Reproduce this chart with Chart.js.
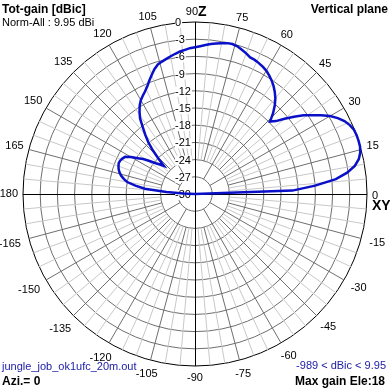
<!DOCTYPE html>
<html>
<head>
<title>Vertical plane</title>
<script src="https://cdn.jsdelivr.net/npm/chart.js"></script>
<style>
  body { margin: 0; background: #fff; }
</style>
</head>
<body>
<canvas id="myChart" width="390" height="389"></canvas>
<script>
// elevation angle (deg) and normalised total gain (dB)
const elevation = [0, 2, 4, 6, 8, 10, 12, 14, 16, 18, 20, 22, 24, 26, 28, 30, 32, 34, 36, 38,
  40, 42, 44, 46, 48, 50, 52, 54, 56, 58, 60, 62, 64, 66, 68, 70, 72, 74, 76, 78,
  80, 82, 84, 86, 88, 90, 92, 94, 96, 98, 100, 102, 104, 106, 108, 110, 112, 114, 116, 118,
  120, 122, 124, 126, 128, 130, 132, 134, 136, 138, 140, 142, 144, 146, 148, 150, 152, 154, 156, 158,
  160, 162, 164, 166, 168, 170, 172, 174, 176, 178, 180];
const gainDb = [-30, -13.0, -9.0, -5.3, -3.2, -1.7, -0.8, -0.3, -0.05, 0, 0, -0.1, -0.45, -1.0, -1.8, -2.8, -4.1, -5.4, -6.6, -8.1,
  -9.6, -11.0, -11.8, -10.4, -9.2, -8.2, -7.4, -6.7, -6.1, -5.6, -5.15, -4.85, -4.6, -4.4, -4.3, -3.9, -3.55, -3.2, -3.05, -3.1,
  -3.3, -3.5, -3.7, -3.95, -4.2, -4.4, -4.55, -4.8, -5.0, -5.3, -5.6, -5.9, -6.2, -6.5, -7.1, -7.9, -8.7, -9.5, -10.1, -10.6,
  -11.1, -11.8, -12.7, -13.7, -15.2, -16.5, -17.8, -19.4, -21.2, -22.7, -22.0, -21.3, -20.2, -19.1, -18.2, -17.1, -16.2, -15.9, -15.7, -15.65,
  -15.8, -16.0, -16.3, -16.7, -17.3, -18.0, -19.5, -21.2, -25.0, -28.0, -30];

const ringTicks = [0, -3, -6, -9, -12, -15, -18, -21, -24, -27, -30];
const angleTicks = [0, 15, 30, 45, 60, 75, 90, 105, 120, 135, 150, 165, 180,
  -165, -150, -135, -120, -105, -90, -75, -60, -45, -30, -15];

const title = 'Tot-gain [dBic]';
const normText = 'Norm-All : 9.95 dBi';
const planeText = 'Vertical plane';
const fileText = 'jungle_job_ok1ufc_20m.out';
const aziText = 'Azi.= 0';
const rangeText = '-989 < dBic < 9.95';
const maxText = 'Max gain Ele:18';

// radar spokes every 2 deg, index 0 at the right, going clockwise
const N = 180;
const labels = [];
const pattern = [];
for (let i = 0; i < N; i++) {
  labels.push(String((360 - 2 * i) % 360));
  pattern.push(null);
}
for (let k = 0; k < elevation.length; k++) {
  pattern[((360 - elevation[k]) / 2) % N] = gainDb[k];
}

const FONT = '"Liberation Sans", Arial, sans-serif';

const polarDecor = {
  id: 'polarDecor',
  beforeDatasetsDraw(chart) {
    const s = chart.scales.r;
    const ctx = chart.ctx;
    const cx = s.xCenter, cy = s.yCenter, R = s.drawingArea;
    const r1 = s.getDistanceFromCenterForValue(-27);
    const r2 = s.getDistanceFromCenterForValue(-24);
    ctx.save();
    ctx.lineWidth = 1;
    // light spokes first, dark on top
    for (let pass = 0; pass < 2; pass++) {
      for (let a = 0; a < 360; a += 5) {
        if (a % 90 === 0) continue;
        const major = a % 15 === 0;
        if ((pass === 0) === major) continue;
        const inner = a % 30 === 0 ? r1 : r2;
        const t = a * Math.PI / 180;
        ctx.strokeStyle = major ? '#6e6e6e' : '#c8c8c8';
        ctx.beginPath();
        ctx.moveTo(cx + Math.cos(t) * inner, cy - Math.sin(t) * inner);
        ctx.lineTo(cx + Math.cos(t) * R, cy - Math.sin(t) * R);
        ctx.stroke();
      }
    }
    // axes
    ctx.strokeStyle = '#000';
    ctx.beginPath();
    ctx.moveTo(cx - R, cy + 0.5);
    ctx.lineTo(cx + R, cy + 0.5);
    ctx.moveTo(cx + 0.5, cy - R);
    ctx.lineTo(cx + 0.5, cy + R);
    ctx.stroke();
    // ring labels
    ctx.font = '11px ' + FONT;
    ctx.textAlign = 'left';
    ctx.textBaseline = 'middle';
    ringTicks.forEach(v => {
      const y = cy - s.getDistanceFromCenterForValue(v) + 1;
      const txt = String(v);
      const w = ctx.measureText(txt).width;
      ctx.fillStyle = '#fff';
      ctx.fillRect(cx - 20, y - 5, w + 1, 10);
      ctx.fillStyle = '#000';
      ctx.fillText(txt, cx - 20, y);
    });
    ctx.restore();
  },
  afterDraw(chart) {
    const s = chart.scales.r;
    const ctx = chart.ctx;
    const cx = s.xCenter, cy = s.yCenter, R = s.drawingArea;
    ctx.save();
    ctx.fillStyle = '#000';
    ctx.textBaseline = 'middle';
    ctx.font = '11px ' + FONT;
    angleTicks.forEach(a => {
      const txt = String(a);
      if (a === 0) {
        ctx.textAlign = 'left';
        ctx.fillText(txt, cx + R + 5, cy + 2);
        return;
      }
      if (a === 90) {
        ctx.textAlign = 'right';
        ctx.fillText(txt, cx + 3, cy - R - 10);
        return;
      }
      const t = a * Math.PI / 180;
      const w = ctx.measureText(txt).width;
      const sn = Math.sin(t), cs = Math.cos(t);
      const d = R + 5 + (w / 2) * Math.abs(cs) + 4 * Math.abs(sn) + (sn < -0.1 ? 3 : 0);
      ctx.textAlign = 'center';
      ctx.fillText(txt, cx + cs * d, cy - sn * d);
    });
    ctx.font = 'bold 14px ' + FONT;
    ctx.textAlign = 'left';
    ctx.fillText('Z', cx + 3, cy - R - 10);
    ctx.fillText('XY', cx + R + 5, cy + 12);

    // corner texts
    ctx.font = 'bold 12px ' + FONT;
    ctx.textAlign = 'left';
    ctx.fillText(title, 2, 10);
    ctx.fillText(aziText, 2, 382);
    ctx.textAlign = 'right';
    ctx.fillText(planeText, 388, 10);
    ctx.fillText(maxText, 385, 382);
    ctx.font = '11px ' + FONT;
    ctx.textAlign = 'left';
    ctx.fillText(normText, 2, 23);
    ctx.fillStyle = '#2020a8';
    ctx.fillText(fileText, 2, 367);
    ctx.textAlign = 'right';
    ctx.fillText(rangeText, 386, 366);
    ctx.restore();
  }
};

const ctx = document.getElementById('myChart').getContext('2d');
const myChart = new Chart(ctx, {
  type: 'radar',
  data: {
    labels: labels,
    datasets: [{
      label: 'Tot-gain',
      data: pattern,
      borderColor: '#0a10c8',
      borderWidth: 2.5,
      pointRadius: 0,
      fill: false,
      spanGaps: false,
      tension: 0
    }]
  },
  options: {
    responsive: false,
    animation: false,
    devicePixelRatio: 1,
    layout: { padding: { left: 23, right: 23, top: 22, bottom: 23 } },
    plugins: { legend: { display: false }, tooltip: { enabled: false } },
    scales: {
      r: {
        min: -30,
        max: 0,
        startAngle: 90,
        ticks: { stepSize: 3, display: false },
        angleLines: { display: false },
        pointLabels: { display: false },
        grid: {
          circular: true,
          lineWidth: 1,
          color: c => (c.tick && c.tick.value === 0) ? '#000' : '#6e6e6e'
        }
      }
    }
  },
  plugins: [polarDecor]
});
</script>
</body>
</html>
